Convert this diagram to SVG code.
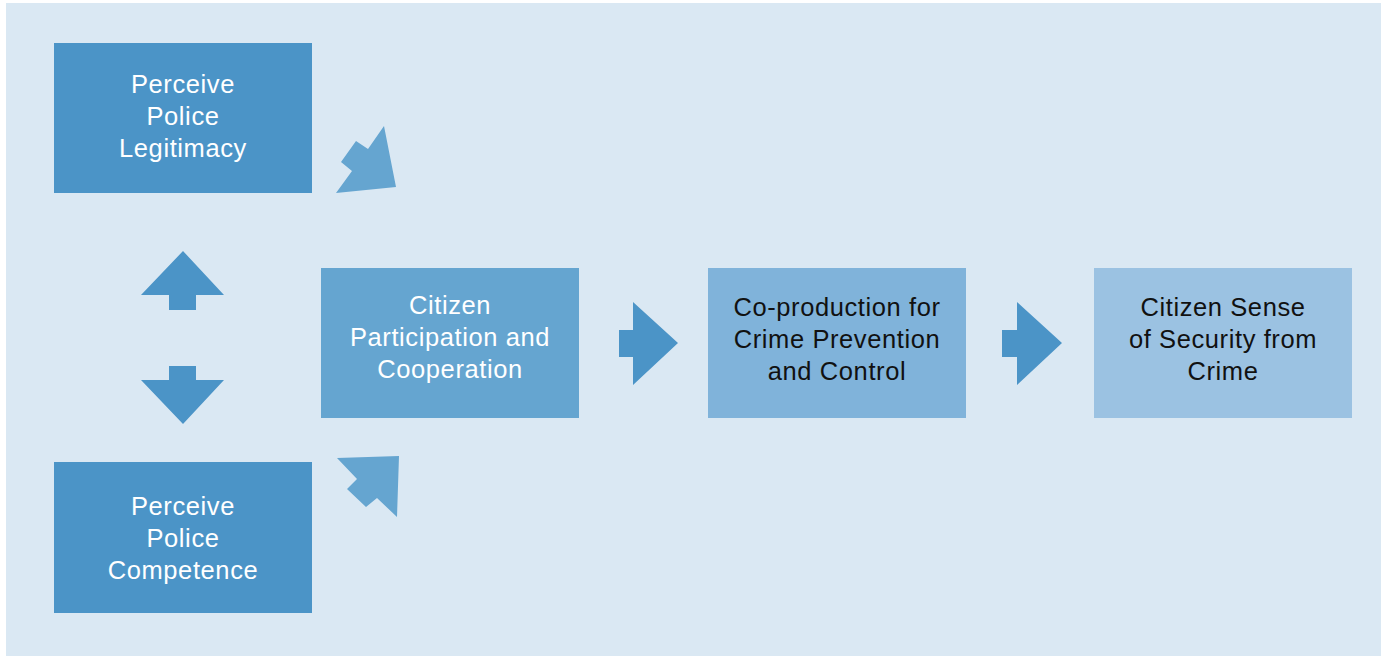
<svg xmlns="http://www.w3.org/2000/svg" width="1381" height="656" viewBox="0 0 1381 656">
<style>
.t{font-family:"Liberation Sans",Arial,Helvetica,sans-serif;font-size:25.5px;letter-spacing:0.6px;fill:#ffffff;text-anchor:middle}
.k{fill:#111111}
.dk{fill:#4b94c7}
.md{fill:#65a5d0}
</style>
<rect x="0" y="0" width="1381" height="656" fill="#ffffff"/>
<rect x="6" y="3" width="1375" height="653" fill="#dae8f3"/>
<g id="connectors">
<polygon class="md" points="336,193 352,171 341,162 356,141 368,149 384,126 396,187"/>
<polygon class="md" points="337,458 399,456 397,517 377,498 366,507 347,489 357,479"/>
<polygon class="dk" points="183,251 224,295 196,295 196,310 169,310 169,295 141,295"/>
<polygon class="dk" points="169,366 196,366 196,380 224,380 183,424 141,380 169,380"/>
<polygon class="dk" points="619,330 633,330 633,302 678,343 633,385 633,357 619,357"/>
<polygon class="dk" points="1002,330 1017,330 1017,302 1062,343 1017,385 1017,357 1002,357"/>
</g>
<g id="legitimacy">
<rect x="54" y="43" width="258" height="150" fill="#4b94c7"/>
<text class="t" x="183" y="93">Perceive</text>
<text class="t" x="183" y="125">Police</text>
<text class="t" x="183" y="157">Legitimacy</text>
</g>
<g id="competence">
<rect x="54" y="462" width="258" height="151" fill="#4b94c7"/>
<text class="t" x="183" y="515">Perceive</text>
<text class="t" x="183" y="547">Police</text>
<text class="t" x="183" y="579">Competence</text>
</g>
<g id="participation">
<rect x="321" y="268" width="258" height="150" fill="#65a5d0"/>
<text class="t" x="450" y="314">Citizen</text>
<text class="t" x="450" y="346">Participation and</text>
<text class="t" x="450" y="378">Cooperation</text>
</g>
<g id="coproduction">
<rect x="708" y="268" width="258" height="150" fill="#80b3da"/>
<text class="t k" x="837" y="316">Co-production for</text>
<text class="t k" x="837" y="348">Crime Prevention</text>
<text class="t k" x="837" y="380">and Control</text>
</g>
<g id="security">
<rect x="1094" y="268" width="258" height="150" fill="#9bc2e2"/>
<text class="t k" x="1223" y="316">Citizen Sense</text>
<text class="t k" x="1223" y="348">of Security from</text>
<text class="t k" x="1223" y="380">Crime</text>
</g>
</svg>
